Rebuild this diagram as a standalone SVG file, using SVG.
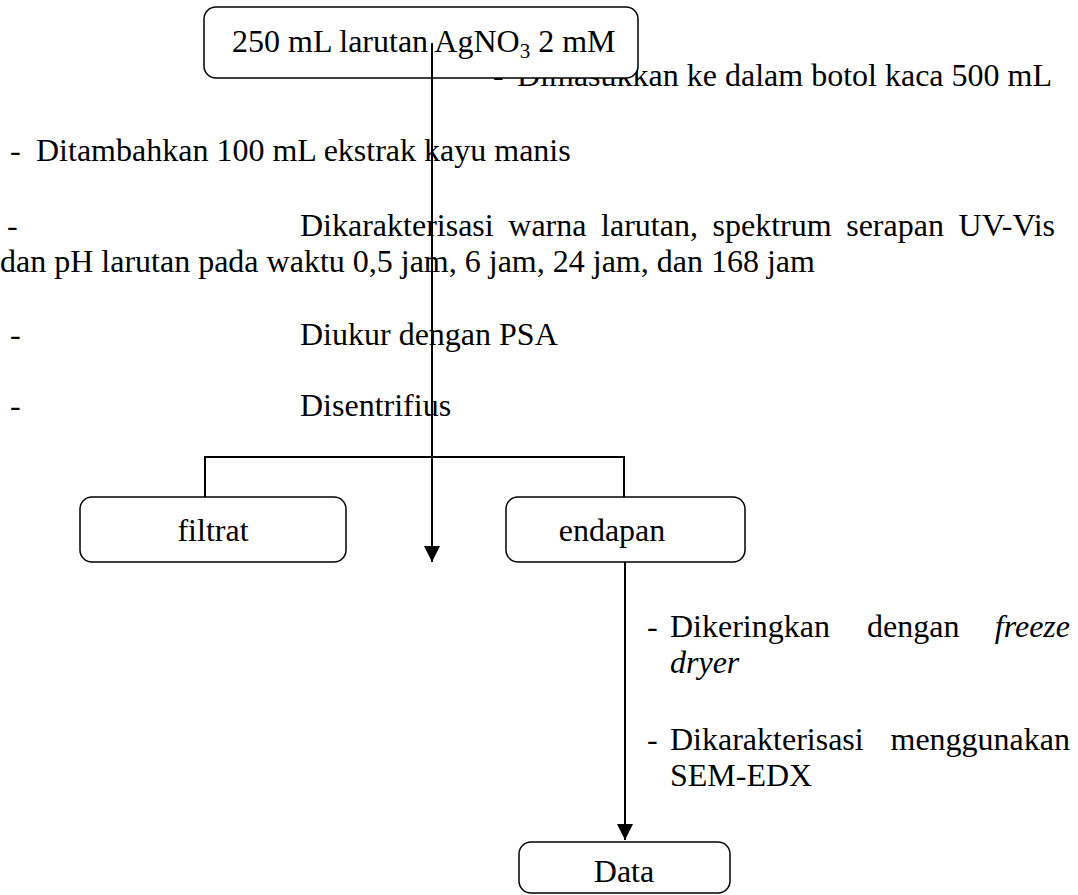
<svg xmlns="http://www.w3.org/2000/svg" width="1078" height="895" viewBox="0 0 1078 895">
<defs>
<style>
text{font-family:"Liberation Serif","Times New Roman",serif;font-size:32px;fill:#000}
.box{fill:#fff;stroke:#000;stroke-width:1.5}
.ln{fill:none;stroke:#000;stroke-width:2}
.c{text-anchor:middle}
.e{text-anchor:end}
</style>
<marker id="ah" markerWidth="17" markerHeight="16" refX="16" refY="8" orient="auto" markerUnits="userSpaceOnUse">
<path d="M0,0 L16,8 L0,16 Z" fill="#000"/>
</marker>
</defs>
<rect width="1078" height="895" fill="#fff"/>
<g id="labels">
<text x="493" y="86">-</text>
<text x="517" y="86">Dimasukkan ke dalam botol kaca 500 mL</text>
<text x="10" y="161">-</text>
<text x="36" y="161">Ditambahkan 100 mL ekstrak kayu manis</text>
<text x="7" y="236">-</text>
<text x="300" y="236" word-spacing="6.6">Dikarakterisasi warna larutan, spektrum serapan UV-Vis</text>
<text x="0" y="272">dan pH larutan pada waktu 0,5 jam, 6 jam, 24 jam, dan 168 jam</text>
<text x="10" y="345">-</text>
<text x="300" y="345">Diukur dengan PSA</text>
<text x="10" y="416">-</text>
<text x="300" y="416">Disentrifius</text>
<text x="647" y="637">-</text>
<text x="670" y="637">Dikeringkan</text>
<text x="867" y="637">dengan</text>
<text x="1070" y="637" class="e" font-style="italic">freeze</text>
<text x="670" y="673" font-style="italic">dryer</text>
<text x="647" y="750">-</text>
<text x="670" y="750">Dikarakterisasi</text>
<text x="1070" y="750" class="e">menggunakan</text>
<text x="670" y="786">SEM-EDX</text>
</g>
<g id="node-start">
<rect class="box" x="204" y="7" width="434" height="71" rx="12"/>
<text x="232" y="52">250 mL larutan AgNO<tspan font-size="21" dy="6">3</tspan><tspan dy="-6"> 2 mM</tspan></text>
</g>
<g id="node-filtrat">
<rect class="box" x="80" y="497" width="266" height="65" rx="12"/>
<text x="213" y="541" class="c">filtrat</text>
</g>
<g id="node-endapan">
<rect class="box" x="506" y="497" width="239" height="65" rx="12"/>
<text x="612" y="541" class="c">endapan</text>
</g>
<g id="node-data">
<rect class="box" x="519" y="842" width="211" height="51" rx="12"/>
<text x="624" y="882" class="c">Data</text>
</g>
<g id="connectors">
<line class="ln" x1="432" y1="43" x2="432" y2="562" marker-end="url(#ah)"/>
<path class="ln" d="M205,497 V457 H624 V497"/>
<line class="ln" x1="625" y1="562" x2="625" y2="840" marker-end="url(#ah)"/>
</g>
</svg>
